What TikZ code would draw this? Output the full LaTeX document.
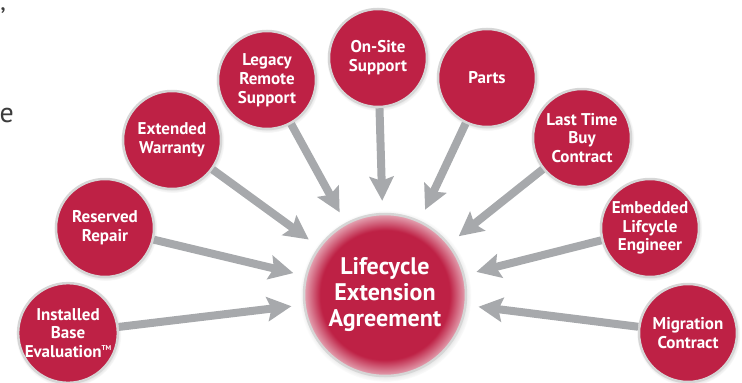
\documentclass[tikz,border=0pt]{standalone}
\usepackage{fontspec}
\setmainfont{PT Sans}[BoldFont={PT Sans Bold}]
\usetikzlibrary{arrows.meta,shadows,fadings,positioning}
\definecolor{crimson}{RGB}{190,33,69}
\definecolor{arrowgray}{RGB}{167,169,172}
\definecolor{ringgray}{RGB}{214,214,214}
\definecolor{pagetext}{RGB}{60,60,60}
\pgfdeclareradialshading{glow}{\pgfpoint{0bp}{0bp}}{color(0bp)=(crimson); color(20bp)=(crimson); color(25bp)=(crimson!40!white); color(50bp)=(crimson!40!white)}
\newcommand{\tmark}{\raisebox{.85ex}{\fontsize{7}{7}\selectfont TM}}
\tikzset{
    feed/.style={-{Stealth[length=24pt, width=24pt, inset=4pt]}, line width=8pt, arrowgray, shorten >=12pt},
    service/.style={circle, draw=ringgray, line width=2.5pt, fill=crimson, minimum size=98pt, inner sep=0pt, align=center, text=white,
        font=\bfseries\fontsize{17}{18.8}\selectfont,
        circular drop shadow={shadow xshift=.5pt, shadow yshift=-1pt, shadow scale=1.06, opacity=.4}},
    hub/.style={service, shading=glow, minimum size=162pt, font=\bfseries\fontsize{24}{26}\selectfont},
    fragment/.style={inner sep=0pt, text=pagetext, font=\fontsize{28}{32}\selectfont}
}

\begin{document}
\begin{tikzpicture}[x=1pt, y=-1pt]
    \useasboundingbox (0,0) rectangle (742,383);
    % bits of the page text cut off at the left
    \node[fragment, anchor=north east] (quote) at (6,7) {’};
    \node[fragment, anchor=base east] (letter) at (14,122) {e};

    \node[hub] (lea) at (385,295) {Lifecycle\\Extension\\Agreement};

    \node[service] (ibe) at (68,333) {Installed\\Base\\Evaluation\tmark};
    \node[service] (rr) at (105,228) {Reserved\\Repair};
    \node[service] (ew) at (172,140) {Extended\\Warranty};
    \node[service] (lrs) at (267,80) {Legacy\\Remote\\Support};
    \node[service] (oss) at (378,58) {On-Site\\Support};
    \node[service] (parts) at (487,78) {Parts};
    \node[service] (ltb) at (582,138) {Last Time\\Buy\\Contract};
    \node[service] (elc) at (650,228) {Embedded\\Lifcycle\\Engineer};
    \node[service] (mc) at (688,333) {Migration\\Contract};

    \draw[feed] (ibe) -- (lea);
    \draw[feed] (rr) -- (lea);
    \draw[feed] (ew) -- (lea);
    \draw[feed] (lrs) -- (lea);
    \draw[feed] (oss) -- (lea);
    \draw[feed] (parts) -- (lea);
    \draw[feed] (ltb) -- (lea);
    \draw[feed] (elc) -- (lea);
    \draw[feed] (mc) -- (lea);
\end{tikzpicture}
\end{document}
